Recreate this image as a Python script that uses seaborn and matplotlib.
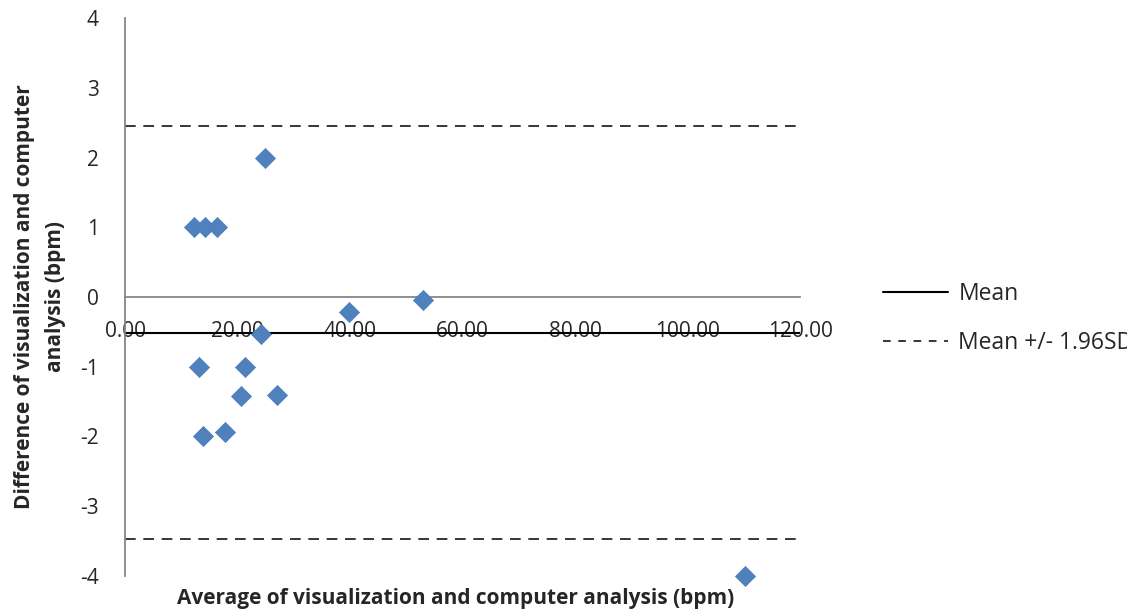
import matplotlib
matplotlib.use("Agg")
import matplotlib.pyplot as plt
import seaborn as sns
import pandas as pd
from matplotlib.lines import Line2D

# Bland-Altman style data
avg_bpm = [12.3, 14.3, 16.3, 24.8, 13.2, 13.8, 17.8, 20.6, 21.3, 24.1, 27.1, 39.8, 52.9, 110.2]
diff_bpm = [1.0, 1.0, 1.0, 2.0, -1.0, -1.99, -1.94, -1.42, -1.0, -0.53, -1.40, -0.22, -0.04, -4.0]
mean_diff = -0.51
upper_limit = 2.45
lower_limit = -3.47
x_ticks = [0, 20, 40, 60, 80, 100, 120]
y_ticks = [-4, -3, -2, -1, 0, 1, 2, 3, 4]

df = pd.DataFrame({"avg": avg_bpm, "diff": diff_bpm})

sns.set_style("white")
plt.rcParams["font.family"] = ["Open Sans", "DejaVu Sans"]
plt.rcParams["font.size"] = 15

fig = plt.figure(figsize=(11.27, 6.13), dpi=100)
ax = fig.add_axes([125 / 1127, 37 / 613, 675 / 1127, 558 / 613])

axis_grey = "#868686"

# limit lines
ax.axhline(mean_diff, color="black", lw=1.5, zorder=1)
ax.axhline(upper_limit, color="black", lw=1.1, linestyle=(0, (7, 5)), zorder=1)
ax.axhline(lower_limit, color="black", lw=1.1, linestyle=(0, (7, 5)), zorder=1)

sns.scatterplot(data=df, x="avg", y="diff", marker="D", s=105, color="#4F81BD",
                edgecolor="#4A7EBB", linewidth=0.5, ax=ax, zorder=3, clip_on=False)

ax.set_xlim(0, 120)
ax.set_ylim(-4, 4)
ax.set_xticks(x_ticks)
ax.set_xticklabels([f"{v:.2f}" for v in x_ticks])
ax.set_yticks(y_ticks)
ax.set_yticklabels([str(v) for v in y_ticks])

for side in ["top", "right"]:
    ax.spines[side].set_visible(False)
ax.spines["bottom"].set_position(("data", 0))
ax.spines["bottom"].set_color(axis_grey)
ax.spines["left"].set_color(axis_grey)
ax.spines["bottom"].set_linewidth(1.3)
ax.spines["left"].set_linewidth(1.3)
ax.tick_params(axis="x", length=0, pad=17, labelsize=15)
ax.tick_params(axis="y", length=0, pad=19, labelsize=15)

ax.set_xlabel("Average of visualization and computer analysis (bpm)", fontweight="bold", fontsize=15)
ax.xaxis.set_label_coords(0.49, -0.04)
ax.xaxis.label.set_va("center")

ax.set_ylabel("Difference of visualization and computer\nanalysis (bpm)", fontweight="bold",
              fontsize=15, linespacing=1.6)
ax.yaxis.set_label_coords(-0.126, 0.5)
ax.yaxis.label.set_va("center")

handles = [Line2D([], [], color="black", lw=1.5),
           Line2D([], [], color="black", lw=1.1, linestyle=(0, (5, 5)))]
fig.legend(handles, ["Mean", "Mean +/- 1.96SD"], loc="upper left",
           bbox_to_anchor=(883 / 1127, 1 - 282 / 613), frameon=False,
           borderaxespad=0, borderpad=0, handlelength=2.85, handletextpad=0.44,
           labelspacing=1.1, fontsize=16.5)

fig.savefig("out.png", dpi=100)
